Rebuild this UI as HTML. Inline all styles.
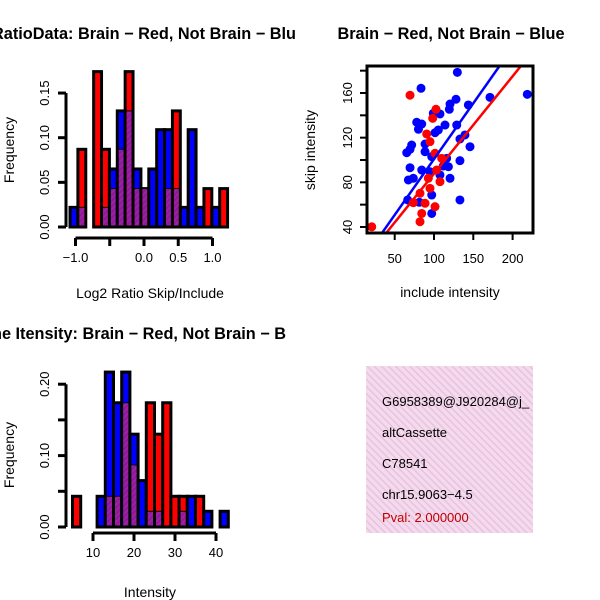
<!DOCTYPE html>
<html><head><meta charset="utf-8"><style>
html,body{margin:0;padding:0;background:#fff}
svg{display:block;font-family:"Liberation Sans",sans-serif}
</style></head><body>
<svg id="chart" width="600" height="600" viewBox="0 0 600 600" xmlns="http://www.w3.org/2000/svg">
<defs>
<pattern id="hatch" patternUnits="userSpaceOnUse" width="4" height="4" patternTransform="rotate(45)">
<rect width="4" height="4" fill="#a020a0"/><rect width="2" height="4" fill="#8a1a9a"/>
</pattern>
<pattern id="pinkhatch" patternUnits="userSpaceOnUse" width="5" height="5" patternTransform="rotate(-45)">
<rect width="5" height="5" fill="#f8d8f0"/><rect width="1.5" height="5" fill="#e0c8d8"/>
</pattern>
<clipPath id="scClip"><rect x="367" y="66" width="166" height="167"/></clipPath>
</defs>
<g id="h1"></g>
<g id="h2"></g>
<g id="sc"></g>
<g>
<rect x="366" y="366" width="167" height="167" fill="url(#pinkhatch)"/>
<svg x="366" y="366" width="167" height="167" overflow="hidden">
<text x="16" y="40" font-size="13">G6958389@J920284@j_</text>
<text x="16" y="71" font-size="13">altCassette</text>
<text x="16" y="102" font-size="13">C78541</text>
<text x="16" y="133" font-size="13">chr15.9063−4.5</text>
<text x="16" y="156" font-size="13" fill="#c00000">Pval: 2.000000</text>
</svg>
</g>
</svg>
<script>
// ---- Histogram 1 data (Log2 ratio) ----
const h1BinStart = -1.08;
const h1BinWidth = 0.115;
const h1Red  = [0,0.087,0,0.174,0.087,0.043,0.087,0.174,0.043,0.043,0,0,0.043,0.13,0,0,0,0.043,0,0.043];
const h1Blue = [0.022,0.022,0,0,0.022,0.065,0.13,0.13,0.065,0.043,0.065,0.109,0.109,0.043,0.022,0.109,0.022,0,0.022,0];
const h1XTicks = [-1.0,-0.5,0.0,0.5,1.0];
const h1XLabels = ["−1.0","","0.0","0.5","1.0"];
const h1YTicks = [0,0.05,0.10,0.15];
const h1YLabels = ["0.00","0.05","0.10","0.15"];
// ---- Histogram 2 data (Intensity) ----
const h2BinStart = 5;
const h2BinWidth = 2;
const h2Red  = [0.043,0,0,0,0.043,0.043,0.174,0.087,0,0.174,0.13,0.174,0.043,0.043,0,0.043,0,0,0];
const h2Blue = [0,0,0,0.043,0.217,0.174,0.217,0.13,0.065,0.022,0.022,0,0,0.022,0.043,0,0.022,0,0.022];
const h2XTicks = [10,20,30,40];
const h2XLabels = ["10","20","30","40"];
const h2YTicks = [0,0.05,0.10,0.15,0.20];
const h2YLabels = ["0.00","","0.10","","0.20"];
// ---- Scatter data ----
const blueX = [129.7,83.5,218.7,171.2,128,120.4,143.7,119.5,99.1,107.6,78,84.4,80.2,114,128.9,105.5,101.3,88.6,71.6,65.3,69.5,88.6,139.4,133,145.8,97.1,116.1,133,111.8,69.5,84.4,94.9,107.6,118.3,73.7,67.4,120.4,97.1,133,81.3,97.1,66.5];
const blueY = [178.5,164.2,158.8,156.1,154.4,150.1,149.3,145.4,141.8,141.2,133.8,132.2,127.5,131.3,131.3,126.9,124.4,114.3,113.4,106.5,109.6,107.4,122.4,118.8,111.9,103,101.5,99.4,94.6,93.1,91,89.5,86.6,94,83.6,82.1,83.6,68.6,64.2,62.1,52.1,64.2];
const redX = [69.5,102.5,98.3,90.7,94.9,101.3,109.8,92.8,107.6,94.9,82.2,73.7,88.6,101.3,84.4,82.2,20.8,103.4];
const redY = [158,145.4,137.3,123.3,116.4,106,101.5,83.6,80.6,74.6,70.2,61.8,61.2,58.2,52.1,44.7,40.2,91];
const fitSlope = [1.0, 0.873];       // blue, red
const fitIntercept = [0.8, 0.4];
const scXTicks = [50,100,150,200];
const scYTicks = [40,60,80,100,120,140,160,180];
const scYLabels = ["40","","80","","120","","160",""];

const NS="http://www.w3.org/2000/svg";
function mk(parent,tag,attrs,text){const e=document.createElementNS(NS,tag);for(const k in attrs)e.setAttribute(k,attrs[k]);if(text!==undefined)e.textContent=text;parent.appendChild(e);return e;}

function drawHist(g,cfg){
  const sx=v=>cfg.x0+(v-cfg.xv0)*cfg.xs;
  const sy=v=>cfg.y0-v*cfg.ys;
  const n=cfg.red.length;
  for(let i=0;i<n;i++){
    const l=sx(cfg.start+i*cfg.width), r=sx(cfg.start+(i+1)*cfg.width);
    const rv=cfg.red[i], bv=cfg.blue[i];
    const mn=Math.min(rv,bv), mx=Math.max(rv,bv);
    if(mx<=0) continue;
    const col = rv>=bv ? "#ff0000" : "#0000ff";
    const b=mk(g,"rect",{x:l,y:sy(mx),width:r-l,height:sy(0)-sy(mx),fill:col,stroke:"#000","stroke-width":3});
    
    
    if(mn>0){
      const o=mk(g,"rect",{x:l+1.5,y:sy(mn),width:r-l-3,height:sy(0)-sy(mn)-1.5,fill:"url(#hatch)"});
      
      
      mk(g,"line",{x1:l,x2:r,y1:sy(mn),y2:sy(mn),stroke:"#000","stroke-width":1});
    }
  }
  const ya=mk(g,"g",{});
  
  
  mk(ya,"line",{x1:cfg.yAxisX,x2:cfg.yAxisX,y1:sy(cfg.yt[0]),y2:sy(cfg.yt[cfg.yt.length-1]),stroke:"#000","stroke-width":3});
  cfg.yt.forEach((t,i)=>{
    mk(ya,"line",{x1:cfg.yAxisX-8,x2:cfg.yAxisX,y1:sy(t),y2:sy(t),stroke:"#000","stroke-width":3});
    if(cfg.yl[i]){const tx=mk(ya,"text",{x:cfg.yAxisX-17,y:sy(t),"font-size":13,"text-anchor":"middle",transform:`rotate(-90 ${cfg.yAxisX-17} ${sy(t)})`},cfg.yl[i]);
      
      }
  });
  const xa=mk(g,"g",{});
  
  
  mk(xa,"line",{x1:sx(cfg.xt[0]),x2:sx(cfg.xt[cfg.xt.length-1]),y1:cfg.xAxisY,y2:cfg.xAxisY,stroke:"#000","stroke-width":3});
  cfg.xt.forEach((t,i)=>{
    mk(xa,"line",{x1:sx(t),x2:sx(t),y1:cfg.xAxisY,y2:cfg.xAxisY+8,stroke:"#000","stroke-width":3});
    if(cfg.xl[i]){const tx=mk(xa,"text",{x:sx(t),y:cfg.xAxisY+24,"font-size":13,"text-anchor":"middle"},cfg.xl[i]);
      
      }
  });
}

drawHist(document.getElementById("h1"),{x0:144,xv0:0,xs:68.5,y0:227,ys:893,start:h1BinStart,width:h1BinWidth,red:h1Red,blue:h1Blue,xt:h1XTicks,xl:h1XLabels,yt:h1YTicks,yl:h1YLabels,yAxisX:66,xAxisY:238});
drawHist(document.getElementById("h2"),{x0:93,xv0:10,xs:4.1,y0:527,ys:714,start:h2BinStart,width:h2BinWidth,red:h2Red,blue:h2Blue,xt:h2XTicks,xl:h2XLabels,yt:h2YTicks,yl:h2YLabels,yAxisX:66,xAxisY:533});

(function(){
  const svg=document.getElementById("chart");
  let t;
  t=mk(svg,"text",{x:-8,y:39,"font-size":16.3,"font-weight":"bold"},"RatioData: Brain − Red, Not Brain − Blu");
   
  t=mk(svg,"text",{x:150,y:298,"font-size":14,"text-anchor":"middle"},"Log2 Ratio Skip/Include");
   
  t=mk(svg,"text",{x:14,y:150,"font-size":14,"text-anchor":"middle",transform:"rotate(-90 14 150)"},"Frequency");
   
  t=mk(svg,"text",{x:-8,y:339,"font-size":16.3,"font-weight":"bold"},"ne Itensity: Brain − Red, Not Brain − B");
   
  t=mk(svg,"text",{x:150,y:597,"font-size":14,"text-anchor":"middle"},"Intensity");
   
  t=mk(svg,"text",{x:14,y:455,"font-size":14,"text-anchor":"middle",transform:"rotate(-90 14 455)"},"Frequency");
   
})();

(function(){
  const g=document.getElementById("sc");
  const sx=v=>434+(v-100)*0.786;
  const sy=v=>93+(160-v)*1.1165;
  const pts=mk(g,"g",{"clip-path":"url(#scClip)"});
  blueX.forEach((x,i)=>{const c=mk(pts,"circle",{cx:sx(x),cy:sy(blueY[i]),r:4.5,fill:"#0000ff"});
     });
  redX.forEach((x,i)=>{const c=mk(pts,"circle",{cx:sx(x),cy:sy(redY[i]),r:4.5,fill:"#ff0000"});
     });
  const cols=["#0000ff","#ff0000"];
  fitSlope.forEach((m,i)=>{const l=mk(pts,"line",{x1:sx(0),y1:sy(fitIntercept[i]),x2:sx(300),y2:sy(fitIntercept[i]+m*300),stroke:cols[i],"stroke-width":2.5});
     });
  const box=mk(g,"rect",{x:367,y:66,width:166,height:167,fill:"none",stroke:"#000","stroke-width":3});
   
  scXTicks.forEach(t=>{mk(g,"line",{x1:sx(t),x2:sx(t),y1:233,y2:240,stroke:"#000","stroke-width":2});
    const tx=mk(g,"text",{x:sx(t),y:263,"font-size":13,"text-anchor":"middle"},String(t));
     });
  scYTicks.forEach((t,i)=>{mk(g,"line",{x1:360,x2:367,y1:sy(t),y2:sy(t),stroke:"#000","stroke-width":2});
    if(scYLabels[i]){const tx=mk(g,"text",{x:352,y:sy(t),"font-size":13,"text-anchor":"middle",transform:`rotate(-90 352 ${sy(t)})`},scYLabels[i]);
       }});
  let t=mk(g,"text",{x:451,y:39,"font-size":16.3,"font-weight":"bold","text-anchor":"middle"},"Brain − Red, Not Brain − Blue");
   
  t=mk(g,"text",{x:450,y:297,"font-size":14,"text-anchor":"middle"},"include intensity");
   
  t=mk(g,"text",{x:315,y:150,"font-size":14,"text-anchor":"middle",transform:"rotate(-90 315 150)"},"skip intensity");
   
})();
</script>
</body></html>
